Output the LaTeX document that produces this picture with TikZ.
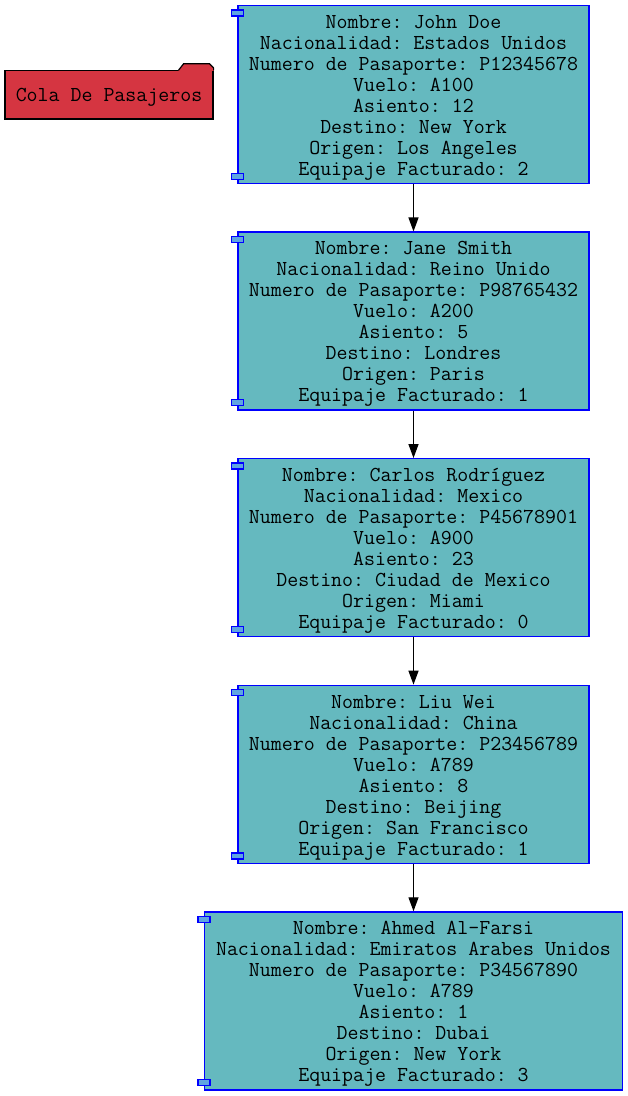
\documentclass[tikz,border=0pt]{standalone}
\usepackage{fontspec}
\usetikzlibrary{positioning,arrows.meta}
\definecolor{pasteal}{RGB}{101,185,191}
\definecolor{tabblue}{RGB}{95,165,225}
\definecolor{colared}{RGB}{213,53,65}
\frenchspacing
\newcommand{\topstrut}{\rule{0pt}{19.5pt}}

\tikzset{
  pasajero/.style={draw=blue, fill=pasteal, line width=1.3pt, minimum width=351pt,
    minimum height=178pt, align=center, inner sep=0pt,
    font=\ttfamily\fontsize{21.3}{21}\selectfont},
  comptab/.style={draw=blue, fill=tabblue, line width=1.3pt},
  colabox/.style={draw=black, fill=colared, line width=1.2pt, minimum width=208pt,
    minimum height=48.3pt, inner sep=0pt, font=\ttfamily\fontsize{21.3}{21}\selectfont}
}
\newcommand{\comptabs}[1]{%
  \filldraw[comptab] ([yshift=-5pt]#1.north west) ++(-6,0) rectangle ++(12,-6);
  \filldraw[comptab] ([yshift=5pt]#1.south west) ++(-6,0) rectangle ++(12,6);
}

\begin{document}
\begin{tikzpicture}[x=1pt,y=1pt,node distance=226.6pt,on grid,
  >={Triangle[length=14pt,width=10pt]}]
  \useasboundingbox (0,0) rectangle (628,-1096);
  \node[pasajero] (john) at (413.5,-94.5) {\topstrut Nombre: John Doe\\Nacionalidad: Estados Unidos\\
    Numero de Pasaporte: P12345678\\Vuelo: A100\\Asiento: 12\\Destino: New York\\
    Origen: Los Angeles\\Equipaje Facturado: 2};
  \node[pasajero] (jane) [below = of john] {\topstrut Nombre: Jane Smith\\Nacionalidad: Reino Unido\\
    Numero de Pasaporte: P98765432\\Vuelo: A200\\Asiento: 5\\Destino: Londres\\
    Origen: Paris\\Equipaje Facturado: 1};
  \node[pasajero] (carlos) [below = of jane] {\topstrut Nombre: Carlos Rodríguez\\Nacionalidad: Mexico\\
    Numero de Pasaporte: P45678901\\Vuelo: A900\\Asiento: 23\\Destino: Ciudad de Mexico\\
    Origen: Miami\\Equipaje Facturado: 0};
  \node[pasajero] (liu) [below = of carlos] {\topstrut Nombre: Liu Wei\\Nacionalidad: China\\
    Numero de Pasaporte: P23456789\\Vuelo: A789\\Asiento: 8\\Destino: Beijing\\
    Origen: San Francisco\\Equipaje Facturado: 1};
  \node[pasajero,minimum width=418pt] (ahmed) [below = of liu] {\topstrut Nombre: Ahmed Al-Farsi\\
    Nacionalidad: Emiratos Arabes Unidos\\Numero de Pasaporte: P34567890\\Vuelo: A789\\
    Asiento: 1\\Destino: Dubai\\Origen: New York\\Equipaje Facturado: 3};
  \foreach \p in {john,jane,carlos,liu,ahmed} {\comptabs{\p}}

  % folder
  \node[colabox] (cola) at (109,-94.9) {\rule{0pt}{17.5pt}Cola De Pasajeros};
  \fill[colared] ([xshift=-35pt,yshift=-0.7pt]cola.north east) -- ++(0,0.7) -- ++(5,6.4)
    -- ++(26,0) -- ++(4,-4.2) -- ([yshift=-0.7pt]cola.north east) -- cycle;
  \draw[line width=1.2pt] ([xshift=-35pt]cola.north east) -- ++(5,6.4) -- ++(26,0)
    -- ++(4,-4.2) -- (cola.north east);

  \path[->,line width=1.3pt]
  (john) edge (jane)
  (jane) edge (carlos)
  (carlos) edge (liu)
  (liu) edge (ahmed)
  ;
\end{tikzpicture}
\end{document}
